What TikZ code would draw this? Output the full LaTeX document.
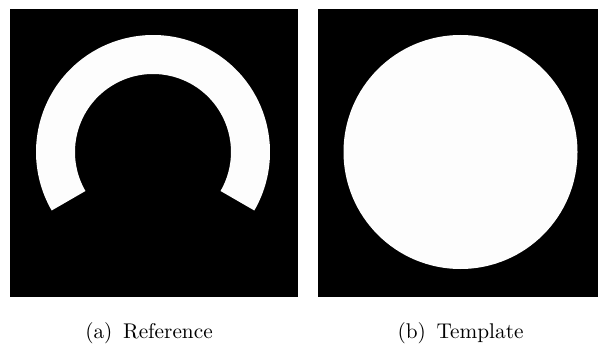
\documentclass[tikz,border=0pt]{standalone}
\begin{document}
\begin{tikzpicture}[x=0.47pt, y=0.47pt, line join=round]
  \definecolor{imgwhite}{RGB}{253,253,253}
  \useasboundingbox (0,0) rectangle (598,348);
  \coordinate (Cref) at (153,196);
  \coordinate (Ctpl) at (460.5,196);
  \fill[black] (10,51) rectangle (298,339);
  \fill[black] (318,51) rectangle (598,339);
  \fill[imgwhite] ([shift={(-30:117)}]Cref) arc (-30:210:117)
    -- ([shift={(210:78)}]Cref) arc (210:-30:78) -- cycle;
  \fill[imgwhite] (Ctpl) circle (117);
  \node[anchor=base] (capa) at (149,10) {(a)\hspace{0.5em}Reference};
  \node[anchor=base] (capb) at (460.5,10) {(b)\hspace{0.5em}Template};
\end{tikzpicture}
\end{document}
